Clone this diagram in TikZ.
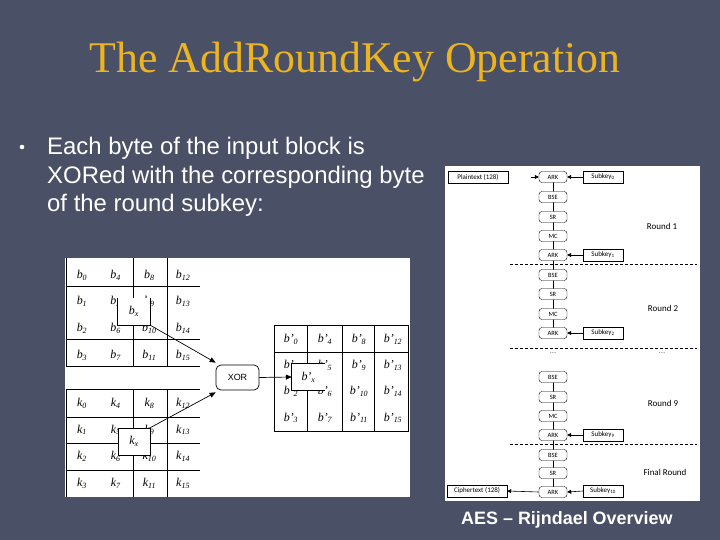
\documentclass[tikz,border=0pt]{standalone}
\usepackage{fontspec}
\setmainfont{Liberation Serif}
\setsansfont{Liberation Sans}
\newfontfamily\carl{Carlito}
\usetikzlibrary{arrows.meta}
\definecolor{bgc}{RGB}{74,80,102}
\definecolor{gold}{RGB}{236,180,32}
\begin{document}
\begin{tikzpicture}[x=1bp,y=-1bp,
  cell/.style={inner sep=0pt,font=\itshape\fontsize{12}{12}\selectfont},
  grid/.style={line width=0.7bp},
  ops/.style={draw,fill=white,rounded corners=3bp,minimum width=28bp,minimum height=11bp,inner sep=0pt,font=\carl\fontsize{6.5}{7}\selectfont},
  keybox/.style={draw,fill=white,minimum height=12bp,inner sep=1pt,font=\carl\fontsize{7}{7}\selectfont},
  arr/.style={-{Triangle[length=6bp,width=5bp]},line width=0.7bp},
  sarr/.style={-{Triangle[length=4bp,width=4bp]},line width=0.6bp},
  roundlbl/.style={font=\carl\fontsize{9}{9}\selectfont},
  dline/.style={dashed,dash pattern=on 3bp off 2bp,line width=0.6bp},
  bodytext/.style={anchor=base west,text=white,font=\sffamily\fontsize{24}{24}\selectfont,inner sep=0pt}]
\useasboundingbox (0,0) rectangle (720,540);
\fill[bgc] (0,0) rectangle (720,540);
% title
\node[anchor=base,text=gold,font=\fontsize{44}{44}\selectfont] (title) at (355,73) {The AddRoundKey Operation};
% bullet
\fill[white] (22,147) circle (2.3bp);
\node[bodytext] (l1) at (47,155) {Each byte of the input block is};
\node[bodytext] (l2) at (47,184) {XORed with the corresponding byte};
\node[bodytext] (l3) at (47,212) {of the round subkey:};
% footer
\node[anchor=base west,text=white,font=\sffamily\bfseries\fontsize{18}{18}\selectfont,inner sep=0pt] (foot) at (461,524) {AES -- Rijndael Overview};
% ---------------- left panel
\fill[white] (65,258) rectangle (410,497);
% b grid
\draw[grid] (66,258) -- (66,366) (133,258) -- (133,366) (167,258) -- (167,366)
  (66,286) -- (200,286) (66,339) -- (200,339) (66,366) -- (200,366);
\foreach \i in {0,...,15}{
  \pgfmathtruncatemacro\c{int(\i/4)}
  \pgfmathtruncatemacro\r{mod(\i,4)}
  \node[cell] (b\i) at ({82+\c*33.7},{275+\r*26.7}) {b\textsubscript{\i}};
}
% k grid
\draw[grid] (66,389) -- (66,497) (133,389) -- (133,497) (167,389) -- (167,497)
  (66,389) -- (200,389) (66,417) -- (200,417) (66,443) -- (200,443) (66,470) -- (200,470);
\foreach \i in {0,...,15}{
  \pgfmathtruncatemacro\c{int(\i/4)}
  \pgfmathtruncatemacro\r{mod(\i,4)}
  \node[cell] (k\i) at ({82+\c*33.7},{403+\r*26.8}) {k\textsubscript{\i}};
}
% output grid
\draw[grid] (274,325) rectangle (408,431) (307,325) -- (307,431) (342,325) -- (342,431)
  (374,325) -- (374,431) (274,352) -- (408,352);
\foreach \i in {0,...,15}{
  \pgfmathtruncatemacro\c{int(\i/4)}
  \pgfmathtruncatemacro\r{mod(\i,4)}
  \node[cell] (o\i) at ({291+\c*34},{339+\r*26.3}) {b’\textsubscript{\i}};
}
% highlighted bytes
\node[fill=white,minimum width=32bp,minimum height=27bp,inner sep=0pt,font=\itshape\fontsize{12}{12}\selectfont] (bx) at (134,311.5) {b\textsubscript{x}};
\draw[grid] (bx.north west) -- (bx.south west) -- (bx.south east) -- (bx.north east);
\node[draw,grid,fill=white,minimum width=32bp,minimum height=27bp,inner sep=0pt,font=\itshape\fontsize{12}{12}\selectfont] (kx) at (134,441.5) {k\textsubscript{x}};
\node[fill=white,minimum width=33bp,minimum height=26bp,inner sep=0pt,font=\itshape\fontsize{12}{12}\selectfont] (ox) at (308.5,377) {b’\textsubscript{x}};
\draw[grid] (ox.north east) -- (ox.north west) -- (ox.south west) -- (ox.south east);
% XOR
\node[draw,grid,fill=white,rounded corners=5bp,minimum width=43bp,minimum height=25bp,inner sep=0pt,font=\sffamily\fontsize{9}{9}\selectfont] (xor) at (237.5,377.5) {XOR};
\draw[arr] (bx.south east) -- ([yshift=2bp]xor.north west);
\draw[arr] (kx.north east) -- ([yshift=-2bp]xor.south west);
\draw[arr] (xor.east) -- (ox.west);
% ---------------- right panel
\fill[white] (445,166) rectangle (700,501);
\draw[dline] (510,264) -- (697,264) (510,348) -- (697,348) (510,444) -- (697,444);
\draw[line width=0.6bp] (553,177) -- (553,333);
\draw[line width=0.6bp] (553,377) -- (553,492);
\node[ops] (ark0) at (553,177) {ARK};
\node[ops] (bse1) at (553,197) {BSE};
\node[ops] (sr1) at (553,217) {SR};
\node[ops] (mc1) at (553,236) {MC};
\node[ops] (ark1) at (553,255) {ARK};
\node[ops] (bse2) at (553,275) {BSE};
\node[ops] (sr2) at (553,294) {SR};
\node[ops] (mc2) at (553,314) {MC};
\node[ops] (ark2) at (553,333) {ARK};
\node[ops] (bse9) at (553,377) {BSE};
\node[ops] (sr9) at (553,397) {SR};
\node[ops] (mc9) at (553,416) {MC};
\node[ops] (ark9) at (553,435) {ARK};
\node[ops] (bse10) at (553,455) {BSE};
\node[ops] (sr10) at (553,473) {SR};
\node[ops] (ark10) at (553,492) {ARK};
% side boxes
\node[keybox,minimum width=60bp] (pt) at (478,177) {Plaintext (128)};
\node[keybox,minimum width=60bp] (ct) at (477,491) {Ciphertext (128)};
\node[keybox,minimum width=40bp] (sk0) at (603,177) {Subkey\textsubscript{0}};
\node[keybox,minimum width=40bp] (sk1) at (603,255) {Subkey\textsubscript{1}};
\node[keybox,minimum width=40bp] (sk2) at (603,333) {Subkey\textsubscript{2}};
\node[keybox,minimum width=40bp] (sk9) at (603,435) {Subkey\textsubscript{9}};
\node[keybox,minimum width=40bp] (sk10) at (603,491) {Subkey\textsubscript{10}};
\coordinate (ptin) at (531,177);
\draw[sarr] (ptin) -- (ark0.west);
\draw[sarr] (sk0.west) -- (ark0.east);
\draw[sarr] (sk1.west) -- (ark1.east);
\draw[sarr] (sk2.west) -- (ark2.east);
\draw[sarr] (sk9.west) -- (ark9.east);
\draw[sarr] (sk10.west) -- (ark10.east);
\draw[sarr] (ark10.west) -- (ct.east);
% labels
\node[roundlbl] (r1) at (662,226) {Round 1};
\node[roundlbl] (r2) at (663,308) {Round 2};
\node[roundlbl] (r9) at (663,403) {Round 9};
\node[roundlbl] (rf) at (665,472) {Final Round};
\node[roundlbl,text=gray] (d1) at (553,353) {...};
\node[roundlbl,text=gray] (d2) at (662,353) {...};
\end{tikzpicture}
\end{document}
